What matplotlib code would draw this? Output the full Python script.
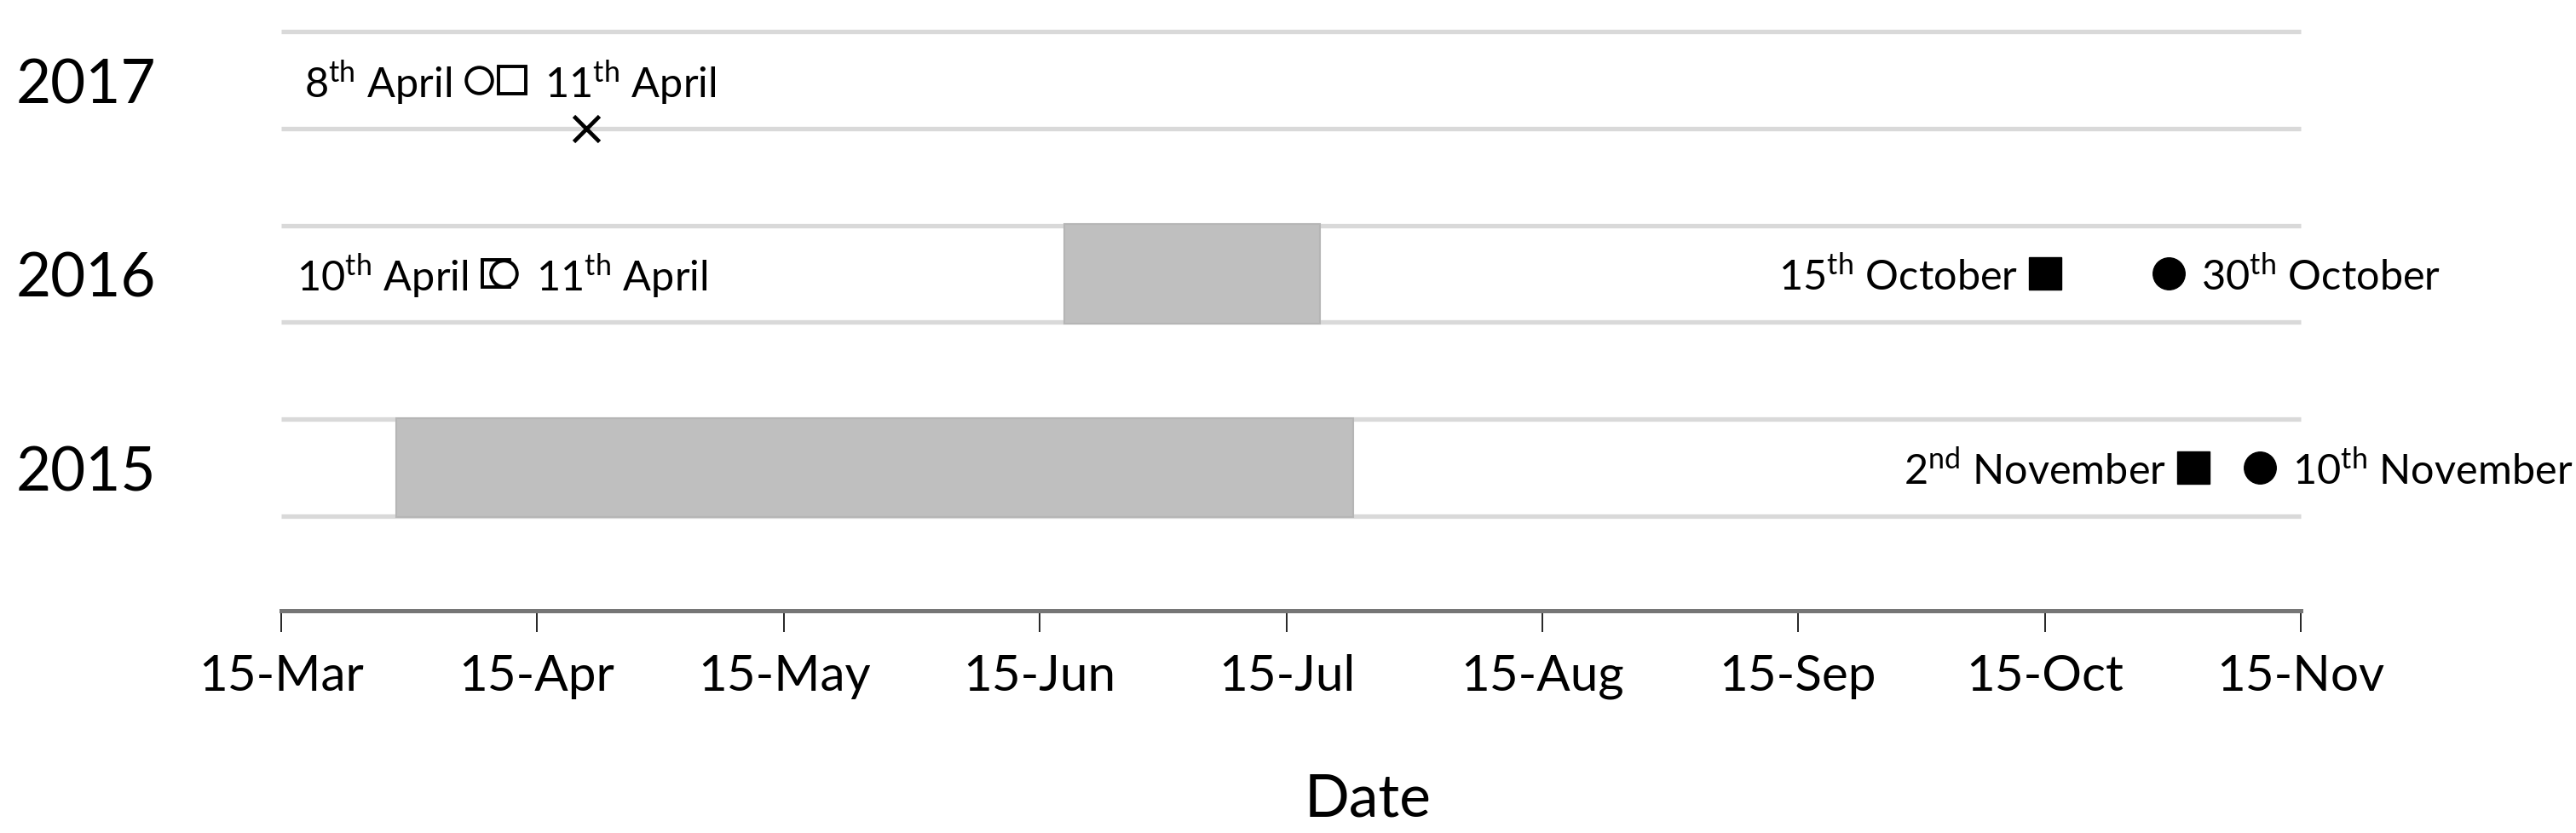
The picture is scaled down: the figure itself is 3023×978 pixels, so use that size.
import re
import numpy as np
import pandas as pd
import matplotlib
matplotlib.use('Agg')
import matplotlib.pyplot as plt
import matplotlib.dates as mdates

# Data (month-day, plotted on a common calendar axis)
years = ['2015', '2016', '2017']
shade_start = ['03-29', '06-18', None]
shade_end = ['07-23', '07-19', None]

spring_circle = [None, '04-11', '04-08']
spring_circle_text = [None, '11th April', '8th April']
spring_square = [None, '04-10', '04-12']
spring_square_text = [None, '10th April', '11th April']

autumn_square = ['11-02', '10-15', None]
autumn_square_text = ['2nd November', '15th October', None]
autumn_circle = ['11-10', '10-30', None]
autumn_circle_text = ['10th November', '30th October', None]

cross_date = [None, None, '04-21']

tick_dates = ['03-15', '04-15', '05-15', '06-15', '07-15',
              '08-15', '09-15', '10-15', '11-15']

BASE_YEAR = 2015


def to_num(md):
    return mdates.date2num(pd.Timestamp(f'{BASE_YEAR}-{md}'))


def sup(txt):
    return re.sub(r'(\d+)(st|nd|rd|th)', r'\1$^{\\mathrm{\2}}$', txt)


plt.rcParams['font.family'] = ['Lato', 'DejaVu Sans']
plt.rcParams['mathtext.fontset'] = 'custom'
plt.rcParams['mathtext.rm'] = 'Lato'

W, H = 3023, 979
fig = plt.figure(figsize=(W / 100, H / 100), dpi=100)
ax = fig.add_axes([330 / W, 1 - 718 / H, 2370 / W, 708 / H])

xmin, xmax = to_num(tick_dates[0]), to_num(tick_dates[-1])
ax.set_xlim(xmin, xmax)
ax.set_ylim(0.2615, 3.3736)

y = np.arange(1, len(years) + 1)

# band lines
edges = np.concatenate([y - 0.25, y + 0.25])
ax.hlines(edges, xmin, xmax, color='#D9D9D9', lw=3.8, zorder=1, clip_on=False)

# shaded periods
for yi, s, e in zip(y, shade_start, shade_end):
    if s is None:
        continue
    ax.barh(yi, to_num(e) - to_num(s), left=to_num(s), height=0.51,
            color='#BFBFBF', edgecolor='#B5B5B5', lw=1.5, zorder=2)


def label(x, yy, txt, side):
    if side == 'left':
        ax.annotate(sup(txt), (x, yy), xytext=(-32, -2), textcoords='offset pixels',
                    ha='right', va='center', fontsize=35, zorder=5)
    else:
        ax.annotate(sup(txt), (x, yy), xytext=(38, -2), textcoords='offset pixels',
                    ha='left', va='center', fontsize=35, zorder=5)


for i, yi in enumerate(y):
    # spring: open square then open circle on top
    if spring_square[i] is not None:
        xs, xc = to_num(spring_square[i]), to_num(spring_circle[i])
        ax.plot(xs, yi, 's', ms=23, mfc='white', mec='black', mew=2.8, zorder=4)
        ax.plot(xc, yi, 'o', ms=22, mfc='white', mec='black', mew=2.8, zorder=4)
        if xs <= xc:
            label(xs, yi, spring_square_text[i], 'left')
            label(xc, yi, spring_circle_text[i], 'right')
        else:
            label(xc, yi, spring_circle_text[i], 'left')
            label(xs, yi, spring_square_text[i], 'right')
    # autumn: filled markers
    if autumn_square[i] is not None:
        xs, xc = to_num(autumn_square[i]), to_num(autumn_circle[i])
        ax.plot(xs, yi, 's', ms=28, color='black', zorder=4)
        ax.plot(xc, yi, 'o', ms=27, color='black', zorder=4)
        label(xs, yi, autumn_square_text[i], 'left')
        label(xc, yi, autumn_circle_text[i], 'right')
    if cross_date[i] is not None:
        ax.plot(to_num(cross_date[i]), yi - 0.25, 'x', ms=22, color='black',
                mew=3.4, zorder=4, clip_on=False)

# axes styling
for s in ['top', 'right', 'left']:
    ax.spines[s].set_visible(False)
ax.spines['bottom'].set_color('#767676')
ax.spines['bottom'].set_linewidth(3.6)

ax.set_xticks([to_num(t) for t in tick_dates])
ax.xaxis.set_major_formatter(mdates.DateFormatter('%d-%b'))
ax.tick_params(axis='x', direction='out', length=18, width=1.2, color='black',
               labelsize=42, pad=18)
ax.set_yticks(y)
ax.set_yticklabels(years)
ax.tick_params(axis='y', length=0, labelsize=51, pad=106)
ax.set_xlabel('Date', fontsize=50)
ax.xaxis.set_label_coords(0.538, -0.268)

fig.savefig('out.png', dpi=100, facecolor='white')
